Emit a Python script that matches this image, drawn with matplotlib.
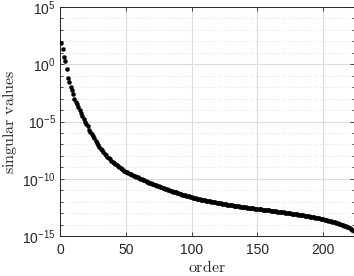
import numpy as np
import matplotlib
matplotlib.use("Agg")
import matplotlib.pyplot as plt
from matplotlib.ticker import LogLocator, FixedLocator, NullFormatter

# ---- data ----
order = list(range(1, 224))
log10_singular_values = [
    1.88, 1.33, 0.61, 0.28, -0.44, -1.17, -1.52, -1.96, -2.25, -2.62,
    -3.06, -3.30, -3.50, -3.75, -4.00, -4.30, -4.55, -4.80, -5.02, -5.25,
    -5.43, -5.70, -5.90, -6.10, -6.28, -6.45, -6.70, -6.90, -7.05, -7.20,
    -7.38, -7.53, -7.68, -7.82, -7.95, -8.08, -8.20, -8.30, -8.41, -8.50,
    -8.60, -8.69, -8.78, -8.87, -8.96, -9.06, -9.15, -9.24, -9.31, -9.37,
    -9.43, -9.49, -9.55, -9.61, -9.67, -9.72, -9.78, -9.83, -9.89, -9.94,
    -9.99, -10.05, -10.10, -10.15, -10.21, -10.26, -10.30, -10.35, -10.39, -10.43,
    -10.48, -10.52, -10.56, -10.60, -10.65, -10.69, -10.73, -10.78, -10.82, -10.87,
    -10.91, -10.95, -11.00, -11.04, -11.09, -11.13, -11.17, -11.20, -11.24, -11.27,
    -11.31, -11.34, -11.38, -11.41, -11.45, -11.48, -11.51, -11.54, -11.58, -11.61,
    -11.64, -11.67, -11.70, -11.74, -11.77, -11.80, -11.82, -11.84, -11.87, -11.89,
    -11.91, -11.93, -11.96, -11.98, -12.00, -12.02, -12.04, -12.07, -12.09, -12.11,
    -12.13, -12.16, -12.18, -12.20, -12.22, -12.24, -12.26, -12.27, -12.29, -12.31,
    -12.33, -12.35, -12.37, -12.39, -12.40, -12.42, -12.44, -12.46, -12.47, -12.49,
    -12.50, -12.52, -12.53, -12.55, -12.56, -12.58, -12.59, -12.61, -12.62, -12.64,
    -12.65, -12.67, -12.68, -12.70, -12.71, -12.73, -12.74, -12.76, -12.77, -12.79,
    -12.80, -12.82, -12.84, -12.85, -12.87, -12.88, -12.90, -12.91, -12.93, -12.94,
    -12.96, -12.97, -12.99, -13.00, -13.02, -13.04, -13.05, -13.07, -13.09, -13.11,
    -13.13, -13.14, -13.16, -13.18, -13.20, -13.21, -13.23, -13.25, -13.27, -13.30,
    -13.32, -13.35, -13.37, -13.39, -13.42, -13.44, -13.47, -13.49, -13.52, -13.54,
    -13.57, -13.60, -13.63, -13.66, -13.69, -13.72, -13.75, -13.78, -13.81, -13.84,
    -13.88, -13.92, -13.96, -14.01, -14.05, -14.10, -14.14, -14.19, -14.25, -14.32,
    -14.40, -14.48, -14.60,
]
singular_values = [10.0 ** v for v in log10_singular_values]

x_ticks = [0, 50, 100, 150, 200]
y_major = [1e-15, 1e-10, 1e-5, 1e0, 1e5]
y_tick_labels = [r"$10^{-15}$", r"$10^{-10}$", r"$10^{-5}$", r"$10^{0}$", r"$10^{5}$"]

# ---- figure ----
plt.rcParams["font.family"] = ["Liberation Sans", "DejaVu Sans"]
plt.rcParams["mathtext.fontset"] = "custom"
plt.rcParams["mathtext.rm"] = "Liberation Sans"
plt.rcParams["mathtext.it"] = "Liberation Sans:italic"

fig = plt.figure(figsize=(3.54, 2.76), dpi=100)
ax = fig.add_axes([60 / 354, 1 - 236 / 276, (353.5 - 60) / 354, (236 - 7) / 276])

ax.plot(order, singular_values, linestyle="none", marker="o", markersize=2.9,
        markerfacecolor="black", markeredgecolor="black", markeredgewidth=0.3,
        zorder=3)

ax.set_yscale("log")
ax.set_xlim(0, 223)
ax.set_ylim(1e-15, 1e5)

ax.xaxis.set_major_locator(FixedLocator(x_ticks))
ax.set_xticklabels([str(t) for t in x_ticks])
ax.yaxis.set_major_locator(FixedLocator(y_major))
ax.set_yticklabels(y_tick_labels)
ax.yaxis.set_minor_locator(LogLocator(base=10, subs=(1.0,), numticks=50))
ax.yaxis.set_minor_formatter(NullFormatter())

grid_col = "#dcdcdc"
ax.grid(True, which="major", color=grid_col, linewidth=0.8, linestyle="-", zorder=0)
ax.grid(True, which="minor", axis="y", color="#d0d0d0", linewidth=0.6,
        linestyle=(0, (1, 2.5)), zorder=0)

ax.tick_params(which="both", direction="in", top=True, right=True,
               colors="#262626", labelcolor="#262626", labelsize=10)
ax.tick_params(which="major", length=3, width=0.6)
ax.tick_params(which="minor", length=1.8, width=0.6)
ax.tick_params(axis="x", pad=5)
ax.tick_params(axis="y", pad=3)
for s in ax.spines.values():
    s.set_color("#262626")
    s.set_linewidth(0.7)

ax.set_xlabel(r"$\mathrm{order}$", math_fontfamily="cm", fontsize=11.5,
              color="#262626", labelpad=1.5)
ax.set_ylabel(r"$\mathrm{singular\ values}$", math_fontfamily="cm", fontsize=11.5,
              color="#262626", labelpad=2.5)

fig.savefig("out.png", dpi=100)
